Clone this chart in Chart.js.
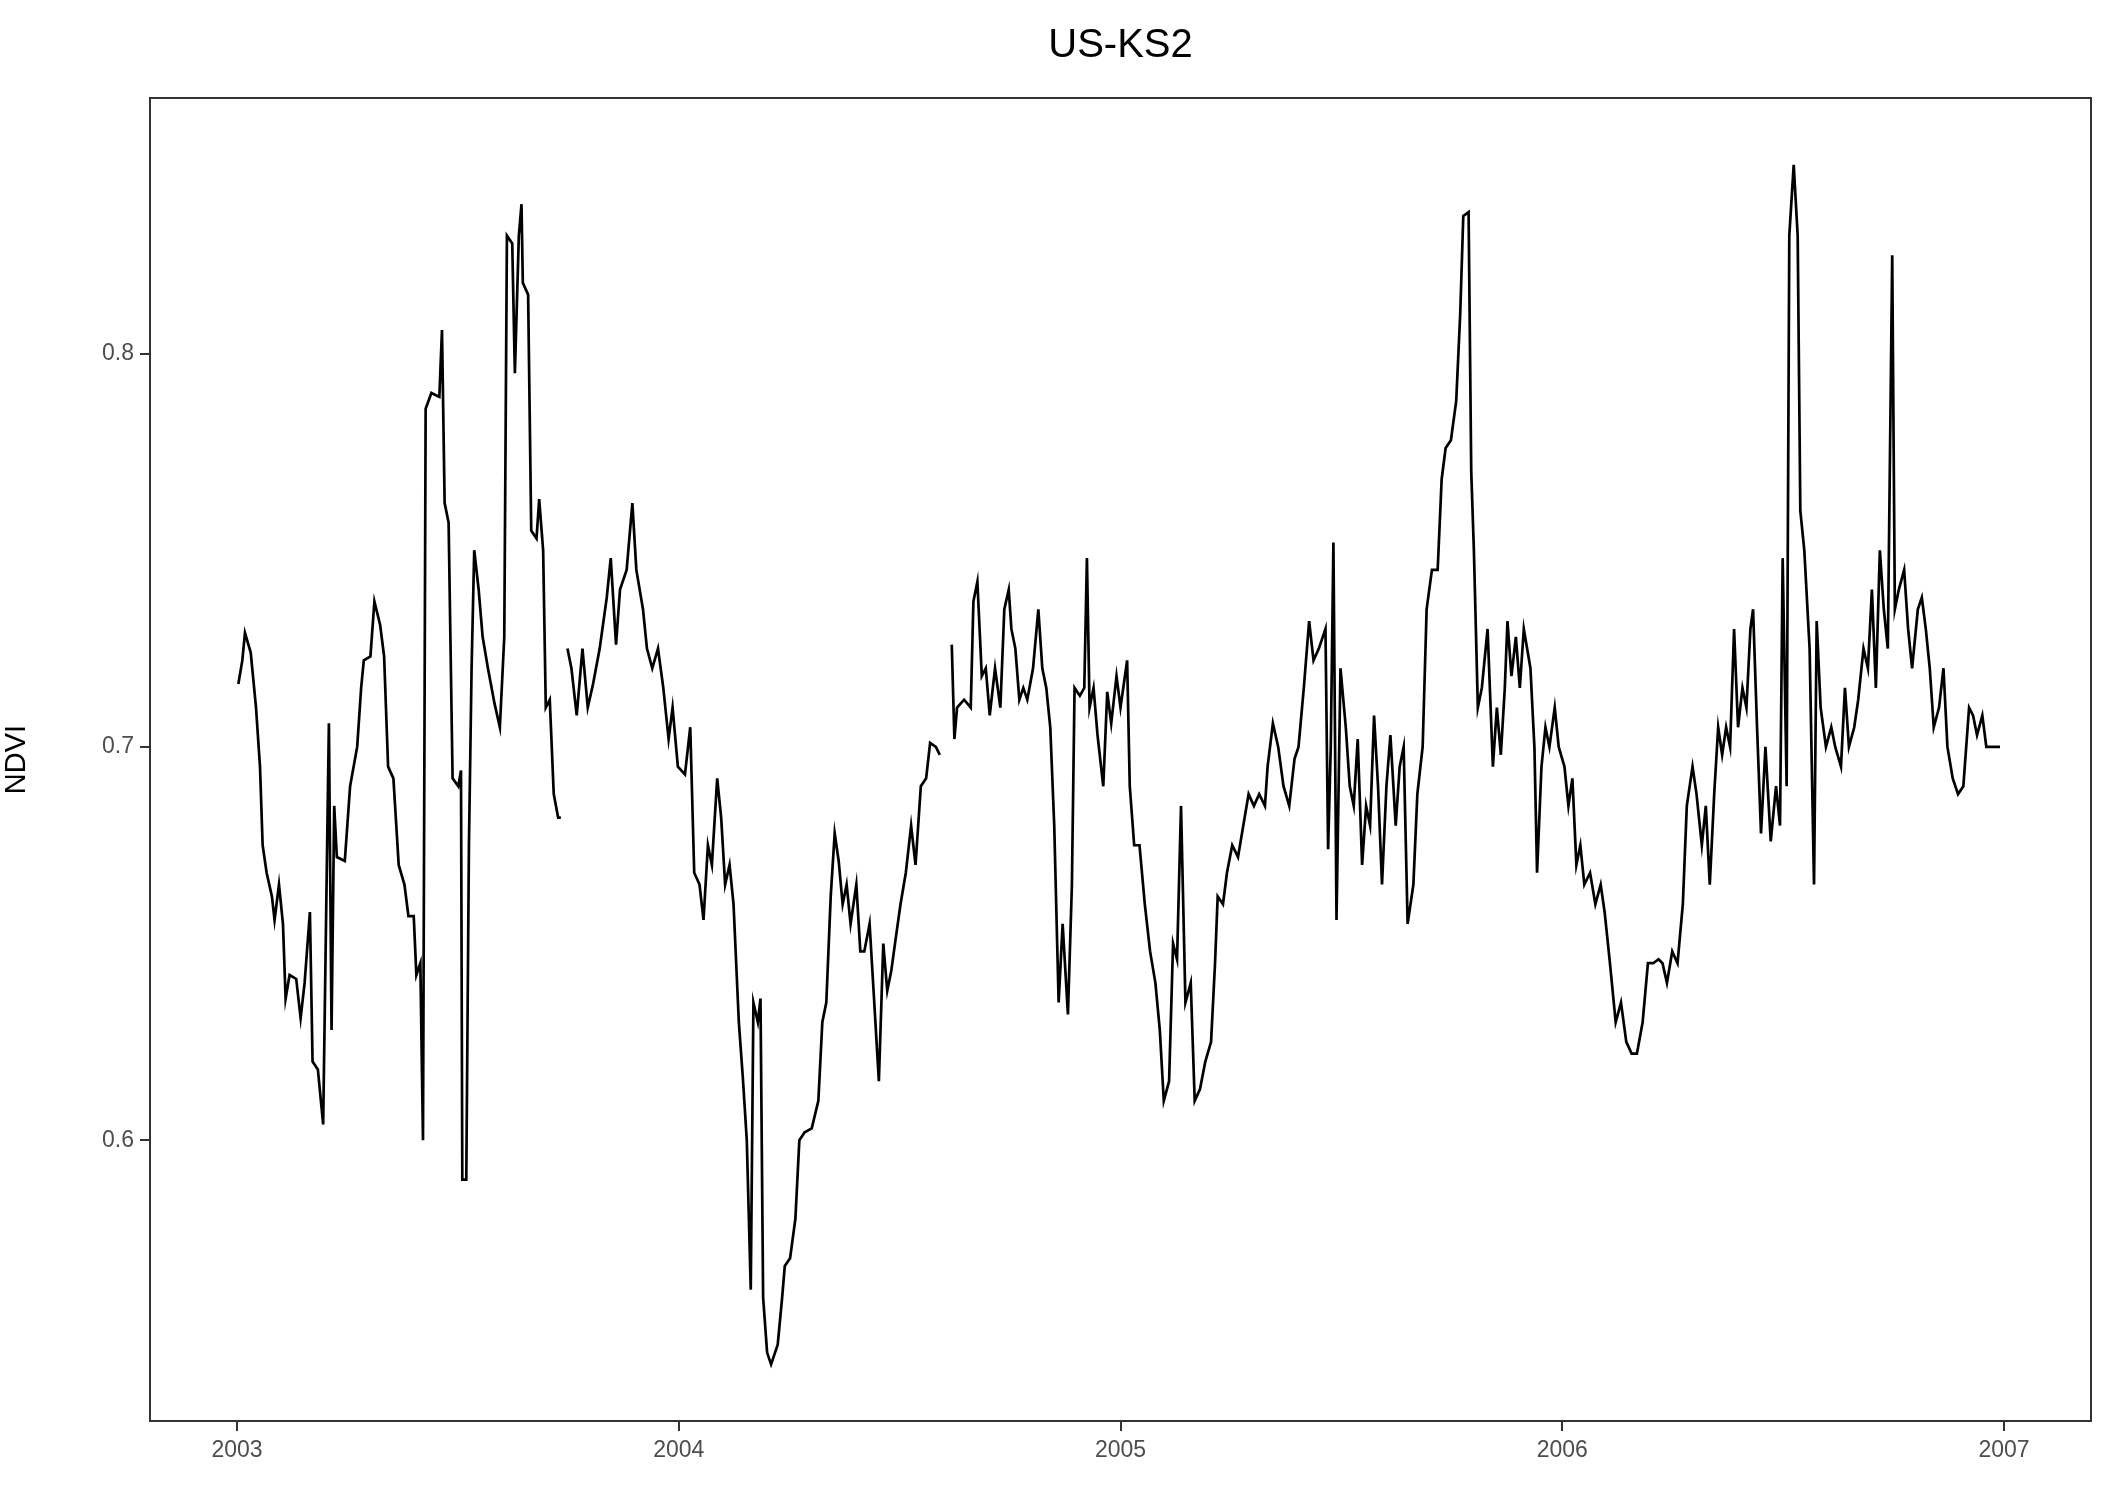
<!DOCTYPE html>
<html><head><meta charset="utf-8">
<script src="https://cdn.jsdelivr.net/npm/chart.js@4/dist/chart.umd.min.js"></script>
<style>html,body{margin:0;padding:0;background:#fff}#c{display:block}</style>
</head><body>
<div style="width:2115px;height:1493px"><canvas id="c"></canvas></div>
<script>
const chartTitle = "US-KS2";
const yTicks = [0.6, 0.7, 0.8];
const xTicks = [2003, 2004, 2005, 2006, 2007];
// decimal years (null marks data gaps)
const years = [
2003.003,2003.012,2003.018,2003.031,2003.043,2003.052,2003.058,2003.067,2003.079,2003.085,2003.095,2003.104,2003.110,2003.119,2003.134,2003.144,2003.153,2003.165,2003.171,2003.183,2003.195,2003.205,2003.208,2003.214,2003.220,2003.226,2003.244,2003.256,2003.272,2003.281,2003.287,2003.302,2003.311,2003.324,2003.333,2003.342,2003.354,2003.366,2003.379,2003.388,2003.400,2003.406,2003.415,2003.421,2003.427,2003.440,2003.458,2003.464,2003.470,2003.479,2003.488,2003.501,2003.507,2003.510,2003.519,2003.525,2003.531,2003.537,2003.547,2003.556,2003.568,2003.583,2003.595,2003.605,2003.611,2003.623,2003.629,2003.638,2003.644,2003.647,2003.659,2003.666,2003.678,2003.684,2003.693,2003.699,2003.708,2003.717,2003.727,2003.733,
2003.740,
2003.748,2003.757,2003.769,2003.782,2003.794,2003.806,2003.821,2003.837,2003.846,2003.858,2003.867,2003.882,2003.895,2003.904,2003.919,2003.928,2003.940,2003.953,2003.965,2003.977,2003.986,2003.998,
2004.014,2004.026,2004.035,2004.047,2004.056,2004.066,2004.075,2004.087,2004.096,2004.105,2004.115,2004.124,2004.136,2004.145,2004.154,2004.163,2004.169,2004.179,2004.185,2004.191,2004.200,2004.209,2004.224,2004.234,2004.240,2004.252,2004.264,2004.273,2004.285,2004.301,2004.316,2004.325,2004.334,2004.344,2004.353,2004.362,2004.371,2004.380,2004.389,2004.402,2004.411,2004.420,2004.432,2004.441,2004.453,2004.463,2004.472,2004.481,2004.492,2004.502,2004.514,2004.526,2004.536,2004.548,2004.560,2004.569,2004.582,2004.591,
2004.605,
2004.618,2004.624,2004.630,2004.646,2004.661,2004.667,2004.676,2004.686,2004.695,2004.704,2004.716,2004.728,2004.737,2004.747,2004.753,2004.762,2004.771,2004.780,2004.789,2004.802,2004.814,2004.823,2004.832,2004.841,2004.850,2004.860,2004.869,2004.881,2004.890,2004.896,2004.908,2004.918,2004.924,2004.930,2004.939,2004.948,2004.961,2004.970,2004.979,2004.991,
2005.000,2005.015,2005.021,2005.031,2005.043,2005.055,2005.067,2005.079,2005.089,2005.098,2005.110,2005.119,2005.128,2005.137,2005.147,2005.159,2005.168,2005.180,2005.192,2005.205,2005.214,2005.220,2005.232,2005.241,2005.253,2005.266,2005.278,2005.290,2005.302,2005.314,2005.327,2005.333,2005.345,2005.357,2005.369,2005.382,2005.394,2005.403,2005.415,2005.427,2005.437,2005.449,2005.464,2005.470,2005.476,2005.482,2005.489,2005.498,2005.510,2005.519,2005.528,2005.537,2005.547,2005.556,2005.565,2005.574,2005.583,2005.592,2005.602,2005.611,2005.623,2005.632,2005.641,2005.650,2005.663,2005.672,2005.684,2005.693,2005.705,2005.718,2005.727,2005.736,2005.748,2005.760,2005.769,2005.776,2005.788,2005.794,2005.800,2005.809,2005.818,2005.831,2005.843,2005.852,2005.861,2005.870,2005.876,2005.885,2005.895,2005.904,2005.913,2005.928,2005.937,2005.943,2005.953,2005.962,2005.971,2005.983,2005.992,
2006.005,2006.014,2006.023,2006.032,2006.041,2006.050,2006.063,2006.075,2006.087,2006.096,2006.108,2006.121,2006.133,2006.145,2006.157,2006.169,2006.182,2006.194,2006.206,2006.218,2006.227,2006.237,2006.249,2006.261,2006.273,2006.282,2006.295,2006.304,2006.316,2006.325,2006.334,2006.344,2006.353,2006.362,2006.371,2006.380,2006.389,2006.398,2006.408,2006.417,2006.426,2006.432,2006.441,2006.450,2006.460,2006.472,2006.484,2006.493,2006.499,2006.508,2006.514,2006.524,2006.533,2006.539,2006.548,2006.560,2006.570,2006.576,2006.585,2006.597,2006.609,2006.618,2006.631,2006.640,2006.649,2006.661,2006.670,2006.682,2006.692,2006.701,2006.710,2006.719,2006.728,2006.737,2006.747,2006.753,2006.762,2006.774,2006.783,2006.792,2006.805,2006.814,2006.823,2006.832,2006.841,2006.853,2006.863,2006.872,2006.884,2006.896,2006.908,2006.921,2006.930,2006.939,2006.951,2006.960,2006.982,2006.991
];
const ndvi = [
0.716,0.722,0.729,0.724,0.710,0.695,0.675,0.668,0.662,0.656,0.665,0.655,0.636,0.642,0.641,0.631,0.640,0.658,0.620,0.618,0.604,0.683,0.706,0.628,0.685,0.672,0.671,0.690,0.700,0.715,0.722,0.723,0.737,0.731,0.723,0.695,0.692,0.670,0.665,0.657,0.657,0.642,0.645,0.600,0.786,0.790,0.789,0.806,0.762,0.757,0.692,0.690,0.694,0.590,0.590,0.675,0.720,0.750,0.740,0.728,0.720,0.711,0.705,0.728,0.830,0.828,0.795,0.830,0.838,0.818,0.815,0.755,0.753,0.763,0.750,0.710,0.712,0.688,0.682,0.682,
null,
0.725,0.720,0.708,0.725,0.710,0.716,0.725,0.738,0.748,0.726,0.740,0.745,0.762,0.745,0.735,0.725,0.720,0.725,0.715,0.702,0.710,0.695,
0.693,0.705,0.668,0.665,0.656,0.675,0.670,0.692,0.682,0.665,0.670,0.660,0.630,0.616,0.600,0.562,0.635,0.630,0.636,0.560,0.546,0.543,0.548,0.560,0.568,0.570,0.580,0.600,0.602,0.603,0.610,0.630,0.635,0.662,0.678,0.671,0.660,0.665,0.655,0.665,0.648,0.648,0.655,0.638,0.615,0.650,0.638,0.643,0.652,0.660,0.668,0.680,0.670,0.690,0.692,0.701,0.700,0.698,
null,
0.726,0.702,0.710,0.712,0.710,0.737,0.742,0.718,0.720,0.708,0.720,0.710,0.735,0.740,0.730,0.725,0.712,0.715,0.712,0.720,0.735,0.720,0.715,0.705,0.680,0.635,0.655,0.632,0.665,0.715,0.713,0.715,0.748,0.710,0.715,0.703,0.690,0.714,0.706,0.718,
0.710,0.722,0.690,0.675,0.675,0.660,0.648,0.640,0.628,0.610,0.615,0.650,0.646,0.685,0.635,0.640,0.610,0.613,0.620,0.625,0.645,0.662,0.660,0.668,0.675,0.672,0.680,0.688,0.685,0.688,0.685,0.695,0.706,0.700,0.690,0.685,0.697,0.700,0.715,0.732,0.722,0.725,0.730,0.674,0.700,0.752,0.656,0.720,0.705,0.690,0.685,0.702,0.670,0.685,0.680,0.708,0.690,0.665,0.690,0.703,0.680,0.695,0.700,0.655,0.665,0.688,0.700,0.735,0.745,0.745,0.768,0.776,0.778,0.788,0.810,0.835,0.836,0.770,0.750,0.710,0.715,0.730,0.695,0.710,0.698,0.715,0.732,0.718,0.728,0.715,0.730,0.720,0.700,0.668,0.695,0.705,0.700,0.710,0.700,
0.695,0.685,0.692,0.670,0.675,0.665,0.668,0.660,0.665,0.658,0.645,0.630,0.635,0.625,0.622,0.622,0.630,0.645,0.645,0.646,0.645,0.640,0.648,0.645,0.660,0.685,0.695,0.688,0.675,0.685,0.665,0.688,0.705,0.698,0.705,0.700,0.730,0.705,0.715,0.710,0.730,0.735,0.705,0.678,0.700,0.676,0.690,0.680,0.748,0.690,0.830,0.848,0.830,0.760,0.750,0.725,0.665,0.732,0.710,0.700,0.705,0.700,0.695,0.715,0.700,0.705,0.712,0.725,0.720,0.740,0.715,0.750,0.735,0.725,0.825,0.735,0.740,0.745,0.730,0.720,0.735,0.738,0.730,0.720,0.705,0.710,0.720,0.700,0.692,0.688,0.690,0.710,0.708,0.703,0.708,0.700,0.700,0.700
];
const points = years.map((x, i) => ({x: x, y: ndvi[i]}));

const framePlugin = {
  id: 'frame',
  afterDraw(chart) {
    const {ctx, chartArea: a} = chart;
    ctx.save();
    ctx.strokeStyle = '#333333';
    ctx.lineWidth = 2;
    ctx.strokeRect(a.left, a.top, a.right - a.left, a.bottom - a.top);
    ctx.fillStyle = '#000';
    ctx.font = '40px "Liberation Sans", Arial, sans-serif';
    ctx.textAlign = 'center';
    ctx.textBaseline = 'middle';
    ctx.fillText(chartTitle, (a.left + a.right) / 2, 46);
    ctx.restore();
  }
};

new Chart(document.getElementById('c'), {
  type: 'line',
  data: { datasets: [{ data: points, borderColor: '#000', borderWidth: 2.7, pointRadius: 0, spanGaps: false, tension: 0 }] },
  options: {
    responsive: true, maintainAspectRatio: false, animation: false,
    layout: { padding: { top: 98, right: 24, left: 0, bottom: 0 } },
    plugins: { legend: { display: false }, tooltip: { enabled: false } },
    scales: {
      x: {
        type: 'linear', min: 2002.803, max: 2007.197,
        afterBuildTicks: s => { s.ticks = xTicks.map(v => ({value: v})); },
        afterFit: s => { s.height = 72; },
        ticks: { color: '#4d4d4d', font: { size: 23, family: '"Liberation Sans", Arial' }, padding: 6, callback: v => String(v) },
        grid: { drawOnChartArea: false, tickLength: 10, color: '#333', lineWidth: 2 },
        border: { color: '#333', width: 2 }
      },
      y: {
        min: 0.5286, max: 0.865,
        afterBuildTicks: s => { s.ticks = yTicks.map(v => ({value: v})); },
        afterFit: s => { s.width = 150; },
        ticks: { color: '#4d4d4d', font: { size: 23, family: '"Liberation Sans", Arial' }, padding: 6, callback: v => v.toFixed(1) },
        grid: { drawOnChartArea: false, tickLength: 10, color: '#333', lineWidth: 2 },
        border: { color: '#333', width: 2 },
        title: { display: true, text: 'NDVI', color: '#000', font: { size: 29, family: '"Liberation Sans", Arial' }, padding: { top: 0, bottom: 4 } }
      }
    }
  },
  plugins: [framePlugin]
});
</script>
</body></html>
